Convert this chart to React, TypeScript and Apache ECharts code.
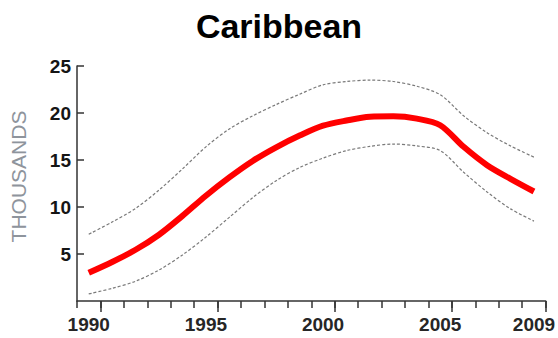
import React, { useEffect, useRef } from "react";
import * as echarts from "echarts";

const title = "Caribbean";
const yName = "THOUSANDS";
const years = ["1990","1991","1992","1993","1994","1995","1996","1997","1998","1999","2000","2001","2002","2003","2004","2005","2006","2007","2008","2009"];
const meanValues = [3.0, 4.15, 5.45, 7.05, 9.05, 11.2, 13.15, 14.9, 16.35, 17.6, 18.65, 19.2, 19.6, 19.65, 19.4, 18.7, 16.4, 14.45, 13.0, 11.65];
const upperValues = [7.1, 8.4, 9.85, 11.8, 14.05, 16.4, 18.3, 19.7, 20.9, 22.0, 23.0, 23.35, 23.5, 23.35, 22.85, 21.95, 19.7, 17.9, 16.5, 15.3];
const lowerValues = [0.75, 1.35, 2.1, 3.3, 4.9, 6.8, 8.9, 11.0, 12.8, 14.2, 15.2, 16.0, 16.45, 16.7, 16.5, 16.0, 13.7, 11.6, 9.8, 8.5];
const labelYears = ["1990", "1995", "2000", "2005", "2009"];
const majorTickAfter = ["1990", "1995", "2000", "2005"];

const FONT = "'Liberation Sans', Arial, sans-serif";

export default function App() {
  const ref = useRef<HTMLDivElement>(null);
  useEffect(() => {
    if (!ref.current) return;
    const chart = echarts.init(ref.current, null, { renderer: "svg" });
    const axisColor = "#333333";
    chart.setOption({
      animation: false,
      backgroundColor: "#ffffff",
      title: {
        text: title,
        left: "center",
        top: 4,
        textStyle: { fontFamily: FONT, fontSize: 34, fontWeight: "bold", color: "#000000" },
      },
      grid: { left: 77, right: 9, top: 66, bottom: 37, containLabel: false },
      xAxis: [
        {
          type: "category",
          data: years,
          boundaryGap: true,
          axisLine: { show: true, lineStyle: { color: axisColor, width: 1.5 } },
          axisTick: { show: true, interval: 0, length: 7, lineStyle: { color: axisColor, width: 1.5 } },
          axisLabel: {
            interval: (i: number, v: string) => labelYears.includes(v),
            margin: 14,
            fontFamily: FONT,
            fontSize: 19,
            fontWeight: "bold",
            color: "#262626",
          },
          splitLine: { show: false },
        },
        {
          type: "category",
          data: years,
          boundaryGap: true,
          position: "bottom",
          axisLine: { show: false },
          axisTick: {
            show: true,
            interval: (i: number) => i > 0 && majorTickAfter.includes(years[i - 1]),
            length: 11,
            lineStyle: { color: axisColor, width: 1.5 },
          },
          axisLabel: { show: false },
          splitLine: { show: false },
        },
      ],
      yAxis: {
        type: "value",
        min: 0,
        max: 25,
        interval: 5,
        name: yName,
        nameLocation: "middle",
        nameRotate: 90,
        nameGap: 48,
        nameTextStyle: { fontFamily: FONT, fontSize: 21, color: "#8e949c", padding: [0, 0, 0, 14] },
        axisLine: { show: true, lineStyle: { color: axisColor, width: 1.5 } },
        axisTick: { show: true, inside: true, length: 7, lineStyle: { color: axisColor, width: 1.5 } },
        axisLabel: {
          showMinLabel: false,
          margin: 6,
          fontFamily: FONT,
          fontSize: 19,
          fontWeight: "bold",
          color: "#151515",
        },
        splitLine: { show: false },
      },
      series: [
        {
          name: "upper",
          type: "line",
          data: upperValues,
          smooth: 0.3,
          symbol: "none",
          lineStyle: { color: "#7a7a7a", width: 1.2, type: [3, 2] },
          z: 2,
        },
        {
          name: "lower",
          type: "line",
          data: lowerValues,
          smooth: 0.3,
          symbol: "none",
          lineStyle: { color: "#7a7a7a", width: 1.2, type: [3, 2] },
          z: 2,
        },
        {
          name: "mean",
          type: "line",
          data: meanValues,
          smooth: 0.3,
          symbol: "none",
          lineStyle: { color: "#ff0000", width: 6 },
          z: 3,
        },
      ],
    });
    return () => chart.dispose();
  }, []);
  return (
    <div
      ref={ref}
      style={{ position: "fixed", left: 0, top: 0, width: 558, height: 338, background: "#fff" }}
    />
  );
}
